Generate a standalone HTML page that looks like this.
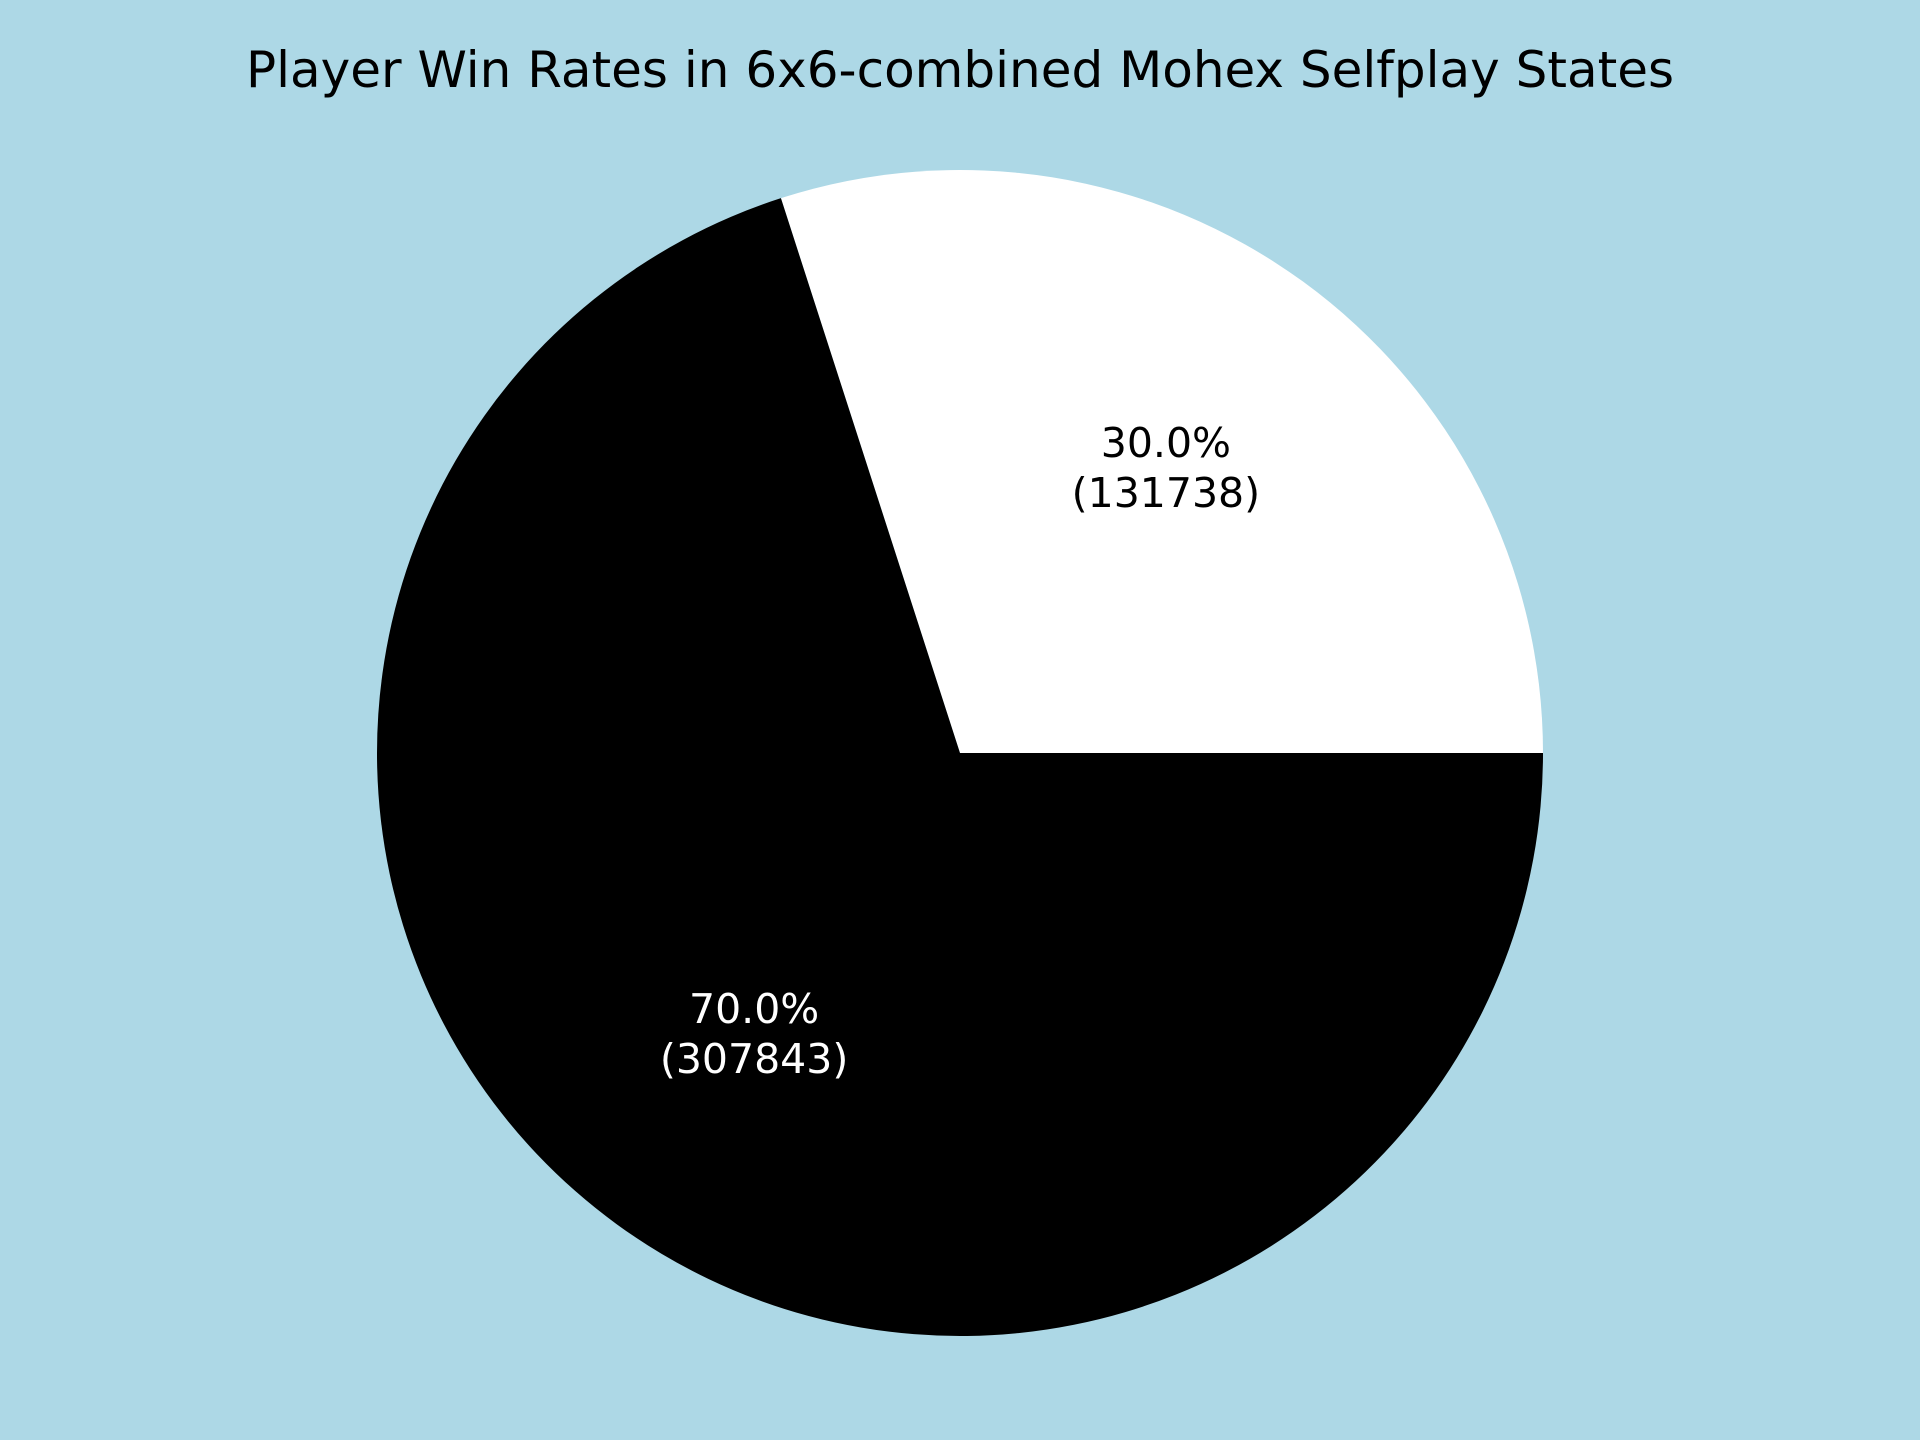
<!DOCTYPE html>
<html><head><meta charset="utf-8"><style>
html,body{margin:0;padding:0;background:#add8e6;}
svg{display:block;font-family:"DejaVu Sans","Liberation Sans",sans-serif;}
</style></head><body>
<svg id="chart" width="1920" height="1440">
<rect width="1920" height="1440" fill="#add8e6"/>
<text x="960" y="87" text-anchor="middle" font-size="50" fill="#000">Player Win Rates in 6x6-combined Mohex Selfplay States</text>
<g id="slices"></g>
</svg>
<script>
const categories = ["Player 2", "Player 1"];
const values = [131738, 307843];
const colors = ["#ffffff", "#000000"];
const labelColors = ["#000000", "#ffffff"];
const cx = 960, cy = 753, r = 583;
const g = document.getElementById('slices');
const ns = 'http://www.w3.org/2000/svg';
const total = values.reduce((a,b)=>a+b,0);
let start = 0;
values.forEach((v,i)=>{
  const sweep = v/total*2*Math.PI;
  const a0 = start, a1 = start+sweep;
  const x0 = cx+r*Math.cos(a0), y0 = cy-r*Math.sin(a0);
  const x1 = cx+r*Math.cos(a1), y1 = cy-r*Math.sin(a1);
  const large = sweep>Math.PI?1:0;
  const p = document.createElementNS(ns,'path');
  p.setAttribute('d',`M${cx},${cy} L${x0},${y0} A${r},${r} 0 ${large} 0 ${x1},${y1} Z`);
  p.setAttribute('fill',colors[i]);
  
  
  g.appendChild(p);
  const mid = (a0+a1)/2;
  const lx = cx+0.6*r*Math.cos(mid), ly = cy-0.6*r*Math.sin(mid);
  const t = document.createElementNS(ns,'text');
  t.setAttribute('x',lx); t.setAttribute('text-anchor','middle');
  t.setAttribute('font-size','41'); t.setAttribute('fill',labelColors[i]);
  
  
  const s1 = document.createElementNS(ns,'tspan');
  s1.setAttribute('x',lx); s1.setAttribute('y',ly-13);
  s1.textContent = (v/total*100).toFixed(1)+'%';
  const s2 = document.createElementNS(ns,'tspan');
  s2.setAttribute('x',lx); s2.setAttribute('y',ly+37);
  s2.textContent = '('+v+')';
  t.appendChild(s1); t.appendChild(s2);
  g.appendChild(t);
  start = a1;
});
</script>
</body></html>
